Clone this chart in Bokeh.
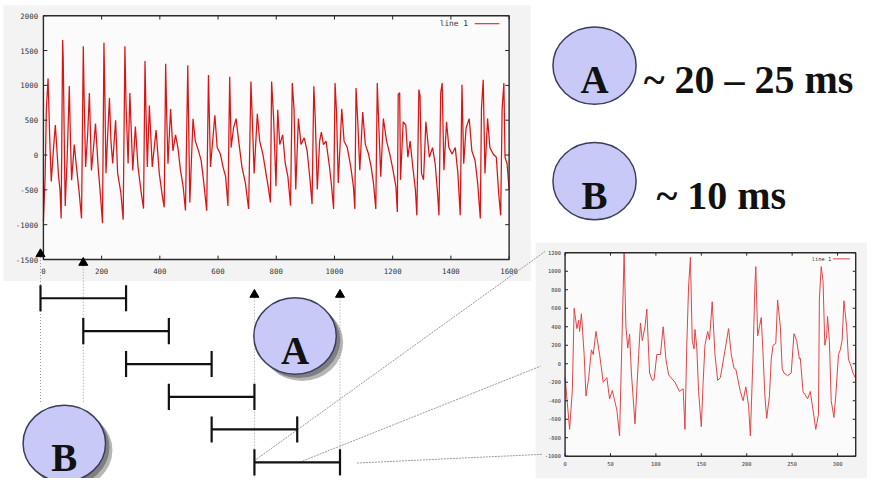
from bokeh.plotting import figure
from bokeh.models import Range1d
from bokeh.embed import file_html
from bokeh.resources import INLINE
from bokeh.core.properties import value

# ---------------- data ----------------
# full utterance waveform (sample index, amplitude)
top_samples = [0, 6, 10, 16, 22, 27, 35, 41, 46, 52, 57, 61,
               66, 68, 73, 75, 82, 89, 93, 97, 106, 113, 122, 131,
               137, 140, 145, 152, 158, 165, 172, 179, 188, 197, 203,
               208, 211, 215, 221, 227, 232, 238, 248, 255, 266, 274,
               280, 284, 291, 297, 307, 316, 325, 336, 344,
               349, 352, 357, 364, 374, 387, 398, 409, 415,
               420, 424, 428, 437, 445, 454, 462, 471, 480, 488,
               496, 503, 514, 522, 533, 542, 550, 561,
               567, 574, 589, 597, 608, 617, 626, 634,
               640, 645, 653, 662, 671, 682, 694, 705,
               713, 718, 724, 735, 743, 754, 763, 772, 780,
               784, 791, 799, 805, 812, 822, 831, 840, 849,
               855, 861, 867, 876, 885, 896, 906, 915, 923,
               929, 934, 941, 949, 955, 962, 971, 983, 990, 997,
               1002, 1007, 1013, 1025, 1033, 1044, 1056, 1065, 1070,
               1074, 1080, 1087, 1097, 1106, 1117, 1126, 1134, 1142,
               1147, 1151, 1159, 1168, 1179, 1190, 1199, 1211, 1216,
               1219, 1224, 1227, 1236, 1245, 1252, 1260, 1269, 1278, 1283,
               1290, 1294, 1299, 1306, 1314, 1326, 1337, 1346, 1354, 1359,
               1365, 1370, 1376, 1385, 1393, 1404, 1415, 1424, 1432,
               1438, 1444, 1452, 1463, 1472, 1483, 1492, 1501,
               1505, 1511, 1517, 1526, 1534, 1545, 1556, 1564, 1571,
               1576, 1582, 1586, 1593, 1600]
top_values = [-950, -300, 650, 1100, 200, -380, 110, 430, 100, -300, -500, -910,
              1650, 1400, -200, -730, 0, 990, 200, -360, 150, -150, -500, -910,
              1560, 800, -170, 300, 890, -220, 100, 450, -170, -630, -980,
              1610, 900, -260, 300, 820, 200, -120, 500, -260, -540, -930,
              1560, 700, -120, 890, -220, 410, -170, -540, -770,
              1350, 700, -170, 710, -170, 360, -260, -600, -750,
              1310, 500, -125, 660, 60, 290, 107, -217, -449, -796,
              1290, -680, 520, 200, 60, -80, -360, -800,
              1150, -170, 570, 107, 14, -170, -310, -730,
              1125, 107, 385, 523, 199, -171, -403, -773,
              1056, 477, -264, 593, 199, 14, -217, -449, -680,
              1056, 523, -449, 650, 150, 290, -125, -310, -727,
              1033, 662, -495, 523, 153, 246, 60, -310, -704,
              987, 523, -495, 199, 330, 150, 200, -171, -449, -773,
              1033, 616, -403, 662, 199, 107, -171, -449, -773,
              963, 477, -217, 616, 153, 14, -171, -403, -773,
              1033, 570, -310, 523, 199, 14, -171, -449, -819,
              871, 894, -356, 477, 431, -32, 199, -171, -495, -866,
              940, 848, -264, -356, 477, -32, 107, -125, -541, -866,
              894, 1033, -217, 477, 107, 14, 107, -264, -866,
              1010, -125, 385, 523, 60, -78, -403, -912,
              662, 1079, -264, 523, 107, 14, -32, -541, -866,
              662, 1033, -32, -125, -500]
top_xticks = [0, 200, 400, 600, 800, 1000, 1200, 1400, 1600]
top_yticks = [-1500, -1000, -500, 0, 500, 1000, 1500, 2000]
top_xlim = (0, 1600)
top_ylim = (-1500, 2000)

# one analysis frame, zoomed (sample index, amplitude)
zoom_samples = [0, 5, 8, 10, 13, 15, 16, 18, 21, 23, 26, 29, 31, 34, 38, 42, 46, 49,
                52, 57, 60, 65, 67, 69, 71, 73, 77, 81, 83, 85, 88, 90, 93, 96, 98,
                101, 105, 108, 111, 114, 121, 126, 130, 132, 134, 136, 138, 140,
                142, 143, 145, 147, 150, 152, 154, 157, 159, 162, 165, 168, 171,
                177, 180, 183, 186, 188, 193, 196, 199, 202, 204, 207, 209, 210,
                212, 214, 216, 218, 220, 222, 225, 227, 229, 232, 234, 237, 239,
                241, 245, 249, 252, 255, 258, 259, 262, 267, 270, 273, 276, 279,
                280, 282, 284, 286, 288, 289, 291, 293, 296, 298, 301, 303, 305,
                307, 310, 312, 315, 317, 320]
zoom_values = [-150, -710, -280, 600, 380, 470, 350, 540, 100, -350, -150, 150, 100,
               350, 100, -200, -150, -380, -290, -500, -780, 1200, 400, 170, 320,
               -100, -650, 100, 440, 250, 400, 590, -100, -180, -170, 100, 100,
               400, 50, -120, -200, -300, -270, -710, 200, 840, 1150, 250, 160,
               370, 180, -300, -680, -200, 200, 350, 260, 670, 100, -180, -150,
               200, 380, 100, -50, -60, -300, -400, -250, -450, -780, 100, 850,
               1050, 300, 400, 500, 100, -350, -590, -350, 50, 200, 220, 690,
               400, -50, -100, -130, -100, 325, 250, 50, 60, -300, -380, -300,
               -500, -710, -550, 700, 1050, 900, 200, 300, 510, 250, -400, -580,
               -350, 100, 150, 250, 680, 400, 50, -30, -100, -160]
zoom_xticks = [0, 50, 100, 150, 200, 250, 300]
zoom_yticks = [-1000, -800, -600, -400, -200, 0, 200, 400, 600, 800, 1000, 1200]
zoom_xlim = (0, 320)
zoom_ylim = (-1000, 1200)

# analysis windows (in samples of the full waveform)
win_start = [-10, 137, 284, 431, 578, 725]
win_end = [284, 431, 578, 725, 872, 1019]
win_row = [307.7, 341.7, 375.7, 409.7, 443.3, 477.3]
arrow_samples = [-10, 137, 725, 1019]
arrow_y = [262, 271, 304, 304]
arrow_line_end = [417, 417, 494, 470]

# connector lines from the last window to the zoomed frame
conn_x0 = [258, 305, 363]
conn_y0 = [476, 477, 478]
conn_x1 = [555, 550, 552]
conn_y1 = [259, 378, 469]

# labelled circles
big_circle_x = [300, 65]
big_circle_y = [346.7, 457.7]
big_circle_txt = ["A", "B"]
key_circle_x = [605, 605]
key_circle_y = [67.3, 186.7]
key_circle_txt = ["A", "B"]
key_text = ["~ 20 \u2013 25 ms", "~ 10 ms"]
key_text_x = [655, 668]

# ---------------- canvas ----------------
# canvas coordinates = pixels of the 883x494 reference, fitted into 867x478
CW, CH = 883, 494
W, H = 867, 478

p = figure(width=W, height=H,
           x_range=Range1d(0, CW), y_range=Range1d(CH, 0),
           x_axis_location=None, y_axis_location=None,
           output_backend="svg", toolbar_location=None, min_border=0)
p.grid.visible = False
p.outline_line_color = None
p.background_fill_color = "white"
p.border_fill_color = "white"


def frame_range(d0, d1, p0, p1, c0, c1):
    k = (d1 - d0) / (p1 - p0)
    return Range1d(d0 + (c0 - p0) * k, d0 + (c1 - p0) * k)


# placement of the two plot frames (canvas units)
TOP_L, TOP_R, TOP_T, TOP_B = 43.7, 518.0, 15.7, 267.7
ZM_L, ZM_R, ZM_T, ZM_B = 575.0, 871.0, 260.7, 471.0

p.extra_x_ranges = {
    "top": frame_range(top_xlim[0], top_xlim[1], TOP_L, TOP_R, 0, CW),
    "zoom": frame_range(zoom_xlim[0], zoom_xlim[1], ZM_L, ZM_R, 0, CW),
}
p.extra_y_ranges = {
    "top": frame_range(top_ylim[1], top_ylim[0], TOP_T, TOP_B, CH, 0),
    "zoom": frame_range(zoom_ylim[1], zoom_ylim[0], ZM_T, ZM_B, CH, 0),
}

# panel backgrounds
p.quad(left=[3, 545], right=[540, 883], top=[5, 250], bottom=[290, 494],
       fill_color="#f3f3f3", line_color=None)

MONO = value("DejaVu Sans Mono")


def draw_chart(name, xs, ys, xlim, ylim, xticks, yticks, pl, pr, pt, pb,
               color, lw, fs, xoff, yoff, tick_px, leg):
    kx = (xlim[1] - xlim[0]) / (pr - pl)
    ky = (ylim[1] - ylim[0]) / (pb - pt)
    rn = dict(x_range_name=name, y_range_name=name)
    p.quad(left=xlim[0], right=xlim[1], bottom=ylim[0], top=ylim[1],
           fill_color="#fbfbfb", line_color=None, **rn)
    p.line(xs, ys, line_color=color, line_width=lw, **rn)
    tl_x = tick_px * kx
    tl_y = tick_px * ky
    # ticks on all four sides, inward
    p.segment(x0=xticks, x1=xticks, y0=[ylim[0]] * len(xticks),
              y1=[ylim[0] + tl_y] * len(xticks), line_color="#222", line_width=1, **rn)
    p.segment(x0=xticks, x1=xticks, y0=[ylim[1]] * len(xticks),
              y1=[ylim[1] - tl_y] * len(xticks), line_color="#222", line_width=1, **rn)
    p.segment(x0=[xlim[0]] * len(yticks), x1=[xlim[0] + tl_x] * len(yticks),
              y0=yticks, y1=yticks, line_color="#222", line_width=1, **rn)
    p.segment(x0=[xlim[1]] * len(yticks), x1=[xlim[1] - tl_x] * len(yticks),
              y0=yticks, y1=yticks, line_color="#222", line_width=1, **rn)
    p.quad(left=xlim[0], right=xlim[1], bottom=ylim[0], top=ylim[1],
           fill_color=None, line_color="#2a2a2a", line_width=1.4, **rn)
    p.text(x=xticks, y=[ylim[0]] * len(xticks), text=[str(t) for t in xticks],
           text_font=MONO, text_font_size=fs, text_color="#333",
           text_align="center", text_baseline="middle", y_offset=yoff, **rn)
    p.text(x=[xlim[0]] * len(yticks), y=yticks, text=[str(t) for t in yticks],
           text_font=MONO, text_font_size=fs, text_color="#333",
           text_align="right", text_baseline="middle", x_offset=xoff, **rn)
    # gnuplot-style key
    lx, ly, l0, l1, lfs = leg
    p.text(x=[lx], y=[ly], text=["line 1"], text_font=MONO, text_font_size=lfs,
           text_color="#333", text_align="right", text_baseline="middle")
    p.segment(x0=[l0], x1=[l1], y0=[ly], y1=[ly], line_color=color, line_width=1)


draw_chart("top", top_samples, top_values, top_xlim, top_ylim, top_xticks, top_yticks,
           TOP_L, TOP_R, TOP_T, TOP_B, "#d91414", 1.25, "7.4px", -5.3, 11.2, 4,
           (476, 24, 483, 508, "7.8px"))
draw_chart("zoom", zoom_samples, zoom_values, zoom_xlim, zoom_ylim, zoom_xticks, zoom_yticks,
           ZM_L, ZM_R, ZM_T, ZM_B, "#e04545", 1.0, "5.4px", -4.2, 8.1, 3,
           (846, 267, 848, 865, "5.4px"))

# connectors and dotted guides
p.segment(x0=conn_x0, y0=conn_y0, x1=conn_x1, y1=conn_y1,
          line_color="#9a9a9a", line_width=1, line_dash="2 1")
p.segment(x0=arrow_samples, x1=arrow_samples, y0=arrow_y, y1=arrow_line_end,
          x_range_name="top", line_color="#9a9a9a", line_width=1, line_dash="1 2")

# analysis windows
p.segment(x0=win_start, x1=win_end, y0=win_row, y1=win_row, x_range_name="top",
          line_color="#111", line_width=2.2)
p.segment(x0=win_start, x1=win_start, y0=[r - 13.5 for r in win_row],
          y1=[r + 13.5 for r in win_row], x_range_name="top", line_color="#111", line_width=2.2)
p.segment(x0=win_end, x1=win_end, y0=[r - 13.5 for r in win_row],
          y1=[r + 13.5 for r in win_row], x_range_name="top", line_color="#111", line_width=2.2)
p.scatter(x=arrow_samples, y=arrow_y, x_range_name="top", marker="triangle",
          size=9, color="black")

SERIF = value("Liberation Serif")
# big labelled circles with drop shadow
p.ellipse(x=[x + 7 for x in big_circle_x], y=[y + 7 for y in big_circle_y],
          width=84, height=79, fill_color="#6e6e6e", fill_alpha=0.5, line_color=None)
p.ellipse(x=[x + 4 for x in big_circle_x], y=[y + 4 for y in big_circle_y],
          width=84, height=79, fill_color="#5a5a5a", fill_alpha=0.6, line_color=None)
p.ellipse(x=big_circle_x, y=big_circle_y, width=84, height=79,
          fill_color="#c9c9f7", line_color="#3c3c5c", line_width=1.5)
p.text(x=big_circle_x, y=[y + 14.5 for y in big_circle_y], text=big_circle_txt,
       text_font=SERIF, text_font_style="bold", text_font_size="39px",
       text_color="#111", text_align="center", text_baseline="alphabetic")

# key circles
p.ellipse(x=key_circle_x, y=key_circle_y, width=84.7, height=80,
          fill_color="#c9c9f7", line_color="#3c3c5c", line_width=1.5)
p.text(x=key_circle_x, y=[y + 14.5 for y in key_circle_y], text=key_circle_txt,
       text_font=SERIF, text_font_style="bold", text_font_size="39px",
       text_color="#111", text_align="center", text_baseline="alphabetic")
p.text(x=key_text_x, y=[y + 14.5 for y in key_circle_y], text=key_text,
       text_font=SERIF, text_font_style="bold", text_font_size="40px",
       text_color="#111", text_align="left", text_baseline="alphabetic")

open("out.html", "w").write(file_html(p, INLINE))
